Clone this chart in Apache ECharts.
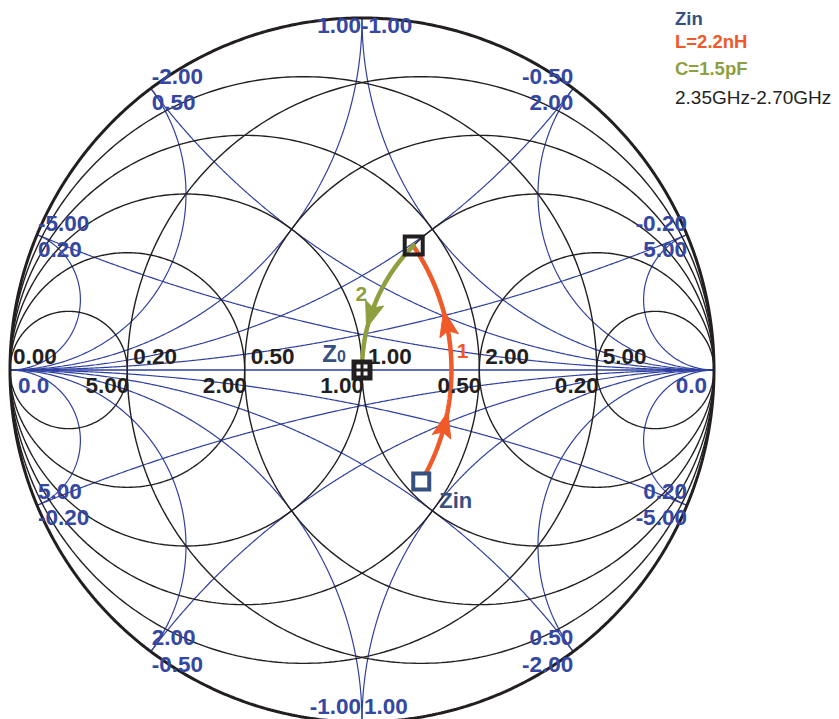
<!DOCTYPE html>
<html>
<head>
<meta charset="utf-8">
<title>Smith chart – L/C matching 2.35–2.70 GHz</title>
<script src="https://cdn.jsdelivr.net/npm/echarts@6/dist/echarts.min.js"></script>
<style>
  html, body { margin: 0; padding: 0; background: #fff; }
  #chart { width: 839px; height: 719px; }
</style>
</head>
<body>
<div id="chart"></div>
<script>
// ---- chart data -------------------------------------------------------
// constant-resistance (impedance) and constant-conductance (admittance) circles
const resistanceValues = [0.2, 0.5, 1, 2, 5];
const conductanceValues = [0.2, 0.5, 1, 2, 5];
// constant-reactance / constant-susceptance arcs
const reactanceValues = [0.2, 0.5, 1, 2, 5, -0.2, -0.5, -1, -2, -5];
const susceptanceValues = [0.2, 0.5, 1, 2, 5, -0.2, -0.5, -1, -2, -5];

// real-axis labels: r above the axis, g below it (same crossing points)
const realAxisR = [0.2, 0.5, 1, 2, 5];
const realAxisRLabels = ['0.20', '0.50', '1.00', '2.00', '5.00'];
const realAxisGLabels = ['5.00', '2.00', '1.00', '0.50', '0.20'];

// rim labels: reactance x (impedance) and the susceptance b at the same rim point
const rimX = [0.2, 0.5, 1, 2, 5, -0.2, -0.5, -1, -2, -5];
const rimXLabels = ['0.20', '0.50', '1.00', '2.00', '5.00', '-0.20', '-0.50', '-1.00', '-2.00', '-5.00'];
const rimBLabels = ['-5.00', '-2.00', '-1.00', '-0.50', '-0.20', '5.00', '2.00', '1.00', '0.50', '0.20'];

// normalised impedances along the matching path
const zIn = [1.10, -0.80];     // input impedance
const zShuntL = [1.00, 0.83];  // after the shunt inductor (step 1)
const z0 = [1.00, 0.00];       // matched point after the series capacitor (step 2)

const legendLabels = ['Zin', 'L=2.2nH', 'C=1.5pF', '2.35GHz-2.70GHz'];

// ---- styling ----------------------------------------------------------
const BLACK = '#231f20';
const BLUE_LINE = '#2f40a0';
const BLUE_TEXT = '#3447a3';
const ZIN_BLUE = '#36507f';
const ORANGE = '#f05a28';
const GREEN = '#8d9f3e';
const FONT = '"Liberation Sans", Arial, Helvetica, sans-serif';

// ---- Smith chart geometry --------------------------------------------
function zToGamma(r, x) {
  const d = (r + 1) * (r + 1) + x * x;
  return [(r * r + x * x - 1) / d, 2 * x / d];
}
function yToGamma(g, b) {
  const d = (g + 1) * (g + 1) + b * b;
  return [-(g * g + b * b - 1) / d, -2 * b / d];
}
function circlePts(cx, rad, n) {
  const pts = [];
  for (let i = 0; i <= n; i++) {
    const a = 2 * Math.PI * i / n;
    pts.push([cx + rad * Math.cos(a), rad * Math.sin(a)]);
  }
  return pts;
}
// arc of constant imaginary part, real part swept 0 → ∞
function sweepPts(fn, im, n) {
  const pts = [];
  for (let i = 0; i < n; i++) {
    const re = Math.tan((Math.PI / 2) * i / n);
    pts.push(fn(re, im));
  }
  pts.push(fn(1e9, im));
  return pts;
}
function pointAt(pts, f) {
  const cum = [0];
  for (let i = 1; i < pts.length; i++) {
    cum.push(cum[i - 1] + Math.hypot(pts[i][0] - pts[i - 1][0], pts[i][1] - pts[i - 1][1]));
  }
  const target = f * cum[cum.length - 1];
  let i = 1;
  while (i < cum.length - 1 && cum[i] < target) i++;
  const t = (target - cum[i - 1]) / (cum[i] - cum[i - 1] || 1);
  const p = [pts[i - 1][0] + t * (pts[i][0] - pts[i - 1][0]), pts[i - 1][1] + t * (pts[i][1] - pts[i - 1][1])];
  const ang = Math.atan2(pts[i][1] - pts[i - 1][1], pts[i][0] - pts[i - 1][0]);
  return { p, ang };
}

const series = [];
function addLine(pts, color, width, z) {
  series.push({
    type: 'line', data: pts, showSymbol: false, symbol: 'none', silent: true,
    clip: false, z, lineStyle: { color, width, cap: 'round' }, emphasis: { disabled: true }
  });
}

// blue reactance / susceptance arcs and the real axis
reactanceValues.forEach(x => addLine(sweepPts(zToGamma, x, 500), BLUE_LINE, 1.2, 2));
susceptanceValues.forEach(b => addLine(sweepPts(yToGamma, b, 500), BLUE_LINE, 1.2, 2));
addLine([[-1, 0], [1, 0]], BLUE_LINE, 1.5, 2);

// black resistance / conductance circles
resistanceValues.forEach(r => addLine(circlePts(r / (1 + r), 1 / (1 + r), 360), BLACK, 1.4, 3));
conductanceValues.forEach(g => addLine(circlePts(-g / (1 + g), 1 / (1 + g), 360), BLACK, 1.4, 3));
// outer rim (r = 0)
addLine(circlePts(0, 1, 720), BLACK, 3, 4);

// ---- matching path ----------------------------------------------------
// step 1: shunt L, along constant conductance of Zin
const yIn = [zIn[0] / (zIn[0] ** 2 + zIn[1] ** 2), -zIn[1] / (zIn[0] ** 2 + zIn[1] ** 2)];
const yL = [zShuntL[0] / (zShuntL[0] ** 2 + zShuntL[1] ** 2), -zShuntL[1] / (zShuntL[0] ** 2 + zShuntL[1] ** 2)];
const path1 = [];
for (let i = 0; i <= 200; i++) {
  const b = yIn[1] + (yL[1] - yIn[1]) * i / 200;
  path1.push(yToGamma(yIn[0], b));
}
// step 2: series C, along constant resistance
const path2 = [];
for (let i = 0; i <= 200; i++) {
  const x = zShuntL[1] + (z0[1] - zShuntL[1]) * i / 200;
  path2.push(zToGamma(zShuntL[0], x));
}
addLine(path1, ORANGE, 4.5, 10);
addLine(path2, GREEN, 4.5, 10);

// arrowheads along the path, pointing in the direction of travel
const arrowMarks = [
  { at: pointAt(path1, 0.25), color: ORANGE },
  { at: pointAt(path1, 0.66), color: ORANGE },
  { at: pointAt(path2, 0.60), color: GREEN }
];
series.push({
  type: 'custom', silent: true, clip: false, z: 11,
  data: arrowMarks.map(a => [a.at.p[0], a.at.p[1], a.at.ang]),
  renderItem: (params, api) => {
    const c = api.coord([api.value(0), api.value(1)]);
    const ang = api.value(2);
    const ux = Math.cos(ang), uy = -Math.sin(ang);   // screen y grows downward
    const nx = -uy, ny = ux;
    const L = 26, W = 9.5, notch = 5;
    const tip = [c[0] + ux * L / 2, c[1] + uy * L / 2];
    const back = [c[0] - ux * L / 2, c[1] - uy * L / 2];
    const mid = [back[0] + ux * notch, back[1] + uy * notch];
    const color = arrowMarks[params.dataIndex].color;
    return {
      type: 'polygon',
      shape: { points: [tip, [back[0] + nx * W, back[1] + ny * W], mid, [back[0] - nx * W, back[1] - ny * W]] },
      style: { fill: color, stroke: color, lineWidth: 1, lineJoin: 'miter' }
    };
  }
});

const gIn = zToGamma(zIn[0], zIn[1]);
const gL = zToGamma(zShuntL[0], zShuntL[1]);
const gZ0 = zToGamma(z0[0], z0[1]);
series.push({
  type: 'scatter', silent: true, clip: false, z: 20, emphasis: { disabled: true },
  data: [
    { value: gIn, symbol: 'rect', symbolSize: 16, itemStyle: { color: '#fff', borderColor: ZIN_BLUE, borderWidth: 4, opacity: 1 } },
    { value: gL, symbol: 'rect', symbolSize: 18, itemStyle: { color: 'rgba(0,0,0,0)', borderColor: BLACK, borderWidth: 4, opacity: 1 } },
    { value: gZ0, symbol: 'rect', symbolSize: 21, itemStyle: { color: BLACK, opacity: 1 } }
  ]
});
series.push({
  type: 'scatter', silent: true, clip: false, z: 21, emphasis: { disabled: true },
  data: [{ value: gZ0, symbol: 'path://M0,0h4v4h-4zM7,0h4v4h-4zM0,7h4v4h-4zM7,7h4v4h-4z', symbolSize: 11, itemStyle: { color: '#fff', opacity: 1 } }]
});

const chart = echarts.init(document.getElementById('chart'), null, { renderer: 'svg' });
chart.setOption({
  animation: false,
  backgroundColor: '#fff',
  grid: { left: 10, top: 18, width: 704, height: 704, containLabel: false, outerBoundsMode: 'none' },
  xAxis: { type: 'value', min: -1, max: 1, show: false },
  yAxis: { type: 'value', min: -1, max: 1, show: false },
  series
});

// ---- text -------------------------------------------------------------
const px = p => chart.convertToPixel({ gridIndex: 0 }, p);
function txt(x, y, text, color, size, weight, align) {
  return {
    type: 'text', x, y, silent: true, z: 50,
    style: {
      text, fill: color, fontSize: size, fontWeight: weight, fontFamily: FONT,
      align, verticalAlign: 'middle', textAlign: align, textVerticalAlign: 'middle'
    }
  };
}
const LS = 22.5;
const graphics = [];

// real axis
const left = px([-1, 0]), right = px([1, 0]);
graphics.push(txt(left[0] + 3, left[1] - 13.5, '0.00', BLACK, LS, 'bold', 'left'));
graphics.push(txt(left[0] + 8, left[1] + 15, '0.0', BLUE_TEXT, LS, 'bold', 'left'));
graphics.push(txt(right[0] - 7, right[1] + 15, '0.0', BLUE_TEXT, LS, 'bold', 'right'));
realAxisR.forEach((r, i) => {
  const p = px([(r - 1) / (r + 1), 0]);
  graphics.push(txt(p[0] + 6, p[1] - 13.5, realAxisRLabels[i], BLACK, LS, 'bold', 'left'));
  graphics.push(txt(p[0] + 2, p[1] + 15, realAxisGLabels[i], BLACK, LS, 'bold', 'right'));
});

// rim
rimX.forEach((x, i) => {
  const g = zToGamma(0, x);
  const p = px(g);
  if (Math.abs(x) === 1) {
    if (x > 0) {
      graphics.push(txt(p[0] - 1, p[1] + 7, rimXLabels[i], BLUE_TEXT, LS, 'bold', 'right'));
      graphics.push(txt(p[0] - 1, p[1] + 7, rimBLabels[i], BLUE_TEXT, LS, 'bold', 'left'));
    } else {
      graphics.push(txt(p[0] - 1, p[1] - 16, rimXLabels[i], BLUE_TEXT, LS, 'bold', 'right'));
      graphics.push(txt(p[0] + 2, p[1] - 16, rimBLabels[i], BLUE_TEXT, LS, 'bold', 'left'));
    }
    return;
  }
  const align = g[0] < 0 ? 'left' : 'right';
  const xo = g[0] < 0 ? 1 : 0;
  const up = g[1] > 0 ? -11.5 : -14;
  const dn = g[1] > 0 ? 14.5 : 12.5;
  graphics.push(txt(p[0] + xo, p[1] + up, rimBLabels[i], BLUE_TEXT, LS, 'bold', align));
  graphics.push(txt(p[0] + xo, p[1] + dn, rimXLabels[i], BLUE_TEXT, LS, 'bold', align));
});

// markers and path annotations
const pIn = px(gIn), pZ0 = px(gZ0);
graphics.push(txt(pIn[0] + 18, pIn[1] + 19, 'Zin', ZIN_BLUE, 22, 'bold', 'left'));
graphics.push(txt(pZ0[0] - 25, pZ0[1] - 17, 'Z', ZIN_BLUE, 24, 'bold', 'right'));
graphics.push(txt(pZ0[0] - 25, pZ0[1] - 14, '0', ZIN_BLUE, 16, 'bold', 'left'));
const l1 = px(pointAt(path1, 0.55).p), l2 = px(pointAt(path2, 0.43).p);
graphics.push(txt(l1[0] + 12, l1[1], '1', ORANGE, 21, 'bold', 'center'));
graphics.push(txt(l2[0] - 18, l2[1], '2', GREEN, 21, 'bold', 'center'));

// legend block
const legendColors = [ZIN_BLUE, ORANGE, GREEN, BLACK];
const legendY = [18, 41, 68, 97];
legendLabels.forEach((s, i) => {
  graphics.push(txt(675, legendY[i], s, legendColors[i], i < 3 ? 18.5 : 19, i < 3 ? 'bold' : 'normal', 'left'));
});

chart.setOption({ graphic: { elements: graphics } });
</script>
</body>
</html>
